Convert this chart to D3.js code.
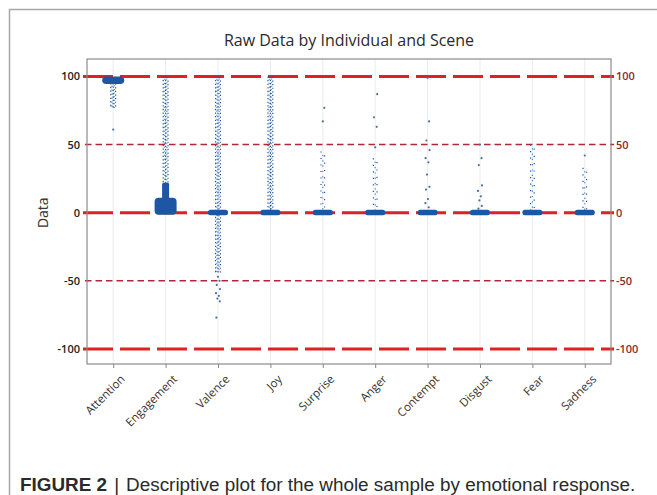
<!DOCTYPE html>
<html><head><meta charset="utf-8">
<script src="https://cdn.jsdelivr.net/npm/d3@7"></script>
<style>
html,body{margin:0;padding:0;background:#fff;}
svg{display:block;}
</style></head>
<body>
<svg id="chart" width="657" height="495"></svg>
<script>
// ---- data ----
const categories = ["Attention","Engagement","Valence","Joy","Surprise","Anger","Contempt","Disgust","Fear","Sadness"];
// dense blob around the median (low, high)
const blobLow  = [94.5, -1.5, -1.8, -1.8, -1.8, -1.8, -1.8, -1.8, -1.8, -1.8];
const blobHigh = [100, 11, 2.2, 2.2, 2.2, 2.2, 2.2, 2.2, 2.2, 2.2];
// narrower dense core above the blob (Engagement only)
const coreTop  = [null, 22, null, null, null, null, null, null, null, null];
// continuous streak of jittered points (low, high)
const streakLow  = [77, 0, -44, 0, 0, 0, null, null, 0, 0];
const streakHigh = [95, 100, 100, 100, 45, 40, null, null, 50, 33];
const streakDense = [true, true, true, true, false, false, false, false, false, false];
// isolated points
const outliers = [
  [61],
  [],
  [-47, -50, -53, -56, -59, -61, -63, -65, -77],
  [],
  [67, 77],
  [48, 63, 70, 87],
  [99, 67, 53, 46, 40, 37, 28, 19, 17, 10, 7, 4],
  [50, 40, 35, 20, 16, 12, 9, 5, 3],
  [],
  [42]
];
const majorRefs = [100, 0, -100];
const minorRefs = [50, -50];
const yTicks = [100, 50, 0, -50, -100];

// ---- drawing ----
const svg = d3.select("#chart");
const L = 87, R = 611, T = 59, B = 364;

svg.append("rect").attr("width",657).attr("height",495).attr("fill","#fff");
// outer figure frame
svg.append("rect").attr("x",9.5).attr("y",9.5).attr("width",700).attr("height",600)
  .attr("fill","none").attr("stroke","#a8a8a8").attr("stroke-width",1.5);

const x = d3.scalePoint().domain(categories).range([L, R]).padding(0.5);
const y = d3.scaleLinear().domain([-111, 112.8]).range([B, T]);

// vertical light gridlines
svg.append("g").selectAll("line").data(categories).join("line")
  .attr("x1", d => x(d)).attr("x2", d => x(d)).attr("y1", T).attr("y2", B)
  .attr("stroke", "#ececec").attr("stroke-width", 1);

// reference lines
svg.append("g").selectAll("line").data(minorRefs).join("line")
  .attr("x1", 85).attr("x2", 614).attr("y1", d => y(d)).attr("y2", d => y(d))
  .attr("stroke", "#b3263a").attr("stroke-width", 1.5).attr("stroke-dasharray", "6.5 4");
svg.append("g").selectAll("line").data(majorRefs).join("line")
  .attr("x1", 83).attr("x2", 614).attr("y1", d => y(d)).attr("y2", d => y(d))
  .attr("stroke", "#dc2222").attr("stroke-width", 3).attr("stroke-dasharray", "30 7");

const blue = "#1d56a3";
const lightBlue = "#4a86c8";
const g = svg.append("g");

// streaks (speckled columns)
categories.forEach((c, i) => {
  if (streakLow[i] === null) return;
  const cx = x(c);
  const offs = streakDense[i] ? [-2.4, -1.2, 0, 1.2, 2.4] : [-1.8, 0, 1.8];
  const dash = streakDense[i] ? ["1.3 2.3", "1.1 2.9", "1.4 1.9", "1 2.6", "1.2 2.4"] : ["1.2 5.3", "1.2 4.1", "1.2 6.1"];
  offs.forEach((o, k) => {
    g.append("line")
      .attr("x1", cx + o).attr("x2", cx + o)
      .attr("y1", y(streakHigh[i])).attr("y2", y(streakLow[i]))
      .attr("stroke", k % 2 ? lightBlue : blue)
      .attr("stroke-width", 1.2)
      .attr("stroke-dasharray", dash[k % dash.length])
      .attr("stroke-dashoffset", k * 1.7);
  });
});

// engagement core
categories.forEach((c, i) => {
  if (coreTop[i] === null) return;
  g.append("rect").attr("x", x(c) - 3.5).attr("width", 7)
    .attr("y", y(coreTop[i])).attr("height", y(blobHigh[i]) - y(coreTop[i]) + 2)
    .attr("fill", blue).attr("rx", 1.5);
});

// outliers
const jit = [0, 1.5, -1.2, 2, -2, 0.8, -0.6, 1.8, -1.6, 0.4, -2.2, 1.1];
categories.forEach((c, i) => {
  g.selectAll(null).data(outliers[i]).join("circle")
    .attr("cx", (d, k) => x(c) + jit[k % jit.length])
    .attr("cy", d => y(d))
    .attr("r", 1.1)
    .attr("fill", "#4a6f9c");
});

// blobs
g.selectAll("rect.blob").data(categories).join("rect").attr("class","blob")
  .attr("x", (d, i) => x(d) - (i < 2 ? 11 : 10))
  .attr("width", (d, i) => i < 2 ? 22 : 20)
  .attr("y", (d, i) => y(blobHigh[i]))
  .attr("height", (d, i) => y(blobLow[i]) - y(blobHigh[i]))
  .attr("rx", (d, i) => i < 2 ? 4 : 2.5)
  .attr("fill", blue);

// plot frame
svg.append("rect").attr("x", L).attr("y", T).attr("width", R - L).attr("height", B - T)
  .attr("fill", "none").attr("stroke", "#8a8a8a").attr("stroke-width", 1.2);

// axes
const font = "'Open Sans', 'Noto Sans', sans-serif";
const fmt = d => String(d);
const yl = svg.append("g").attr("transform", `translate(${L},0)`)
  .call(d3.axisLeft(y).tickValues(yTicks).tickFormat(fmt).tickSize(0).tickPadding(7));
yl.select(".domain").remove();
yl.selectAll("text").attr("font-family", font).attr("font-size", 11).attr("fill", "#222").attr("font-weight", 600);

const yr = svg.append("g").attr("transform", `translate(${R},0)`)
  .call(d3.axisRight(y).tickValues(yTicks).tickFormat(fmt).tickSize(0).tickPadding(5));
yr.select(".domain").remove();
yr.selectAll("text").attr("font-family", font).attr("font-size", 11).attr("fill", "#8e2a2a").attr("font-weight", 600);

const xa = svg.append("g").attr("transform", `translate(0,${B})`)
  .call(d3.axisBottom(x).tickSize(4));
xa.select(".domain").remove();
xa.selectAll("line").attr("stroke", "#888");
xa.selectAll("text")
  .attr("font-family", font).attr("font-size", 11.5).attr("fill", "#333")
  .attr("text-anchor", "end")
  .attr("transform", "translate(9,13) rotate(-45)")
  .attr("dy", "0.35em").attr("y", 0).attr("x", 0);

// titles
svg.append("text").attr("x", (L + R) / 2).attr("y", 46).attr("text-anchor", "middle")
  .attr("font-family", font).attr("font-size", 16).attr("font-weight", 500).attr("fill", "#2a2a2a")
  .text("Raw Data by Individual and Scene");
svg.append("text").attr("transform", `translate(48,${y(0)}) rotate(-90)`).attr("text-anchor", "middle")
  .attr("font-family", font).attr("font-size", 14).attr("fill", "#333").text("Data");

// caption
const cap = svg.append("text").attr("x", 20).attr("y", 491)
  .attr("font-family", "'Liberation Sans', Arial, sans-serif").attr("font-size", 18.9).attr("fill", "#2a2a2a");
cap.append("tspan").attr("font-weight", "bold").text("FIGURE 2");
cap.append("tspan").attr("dx", 7).text("|");
cap.append("tspan").attr("dx", 7).text("Descriptive plot for the whole sample by emotional response.");
</script>
</body></html>
